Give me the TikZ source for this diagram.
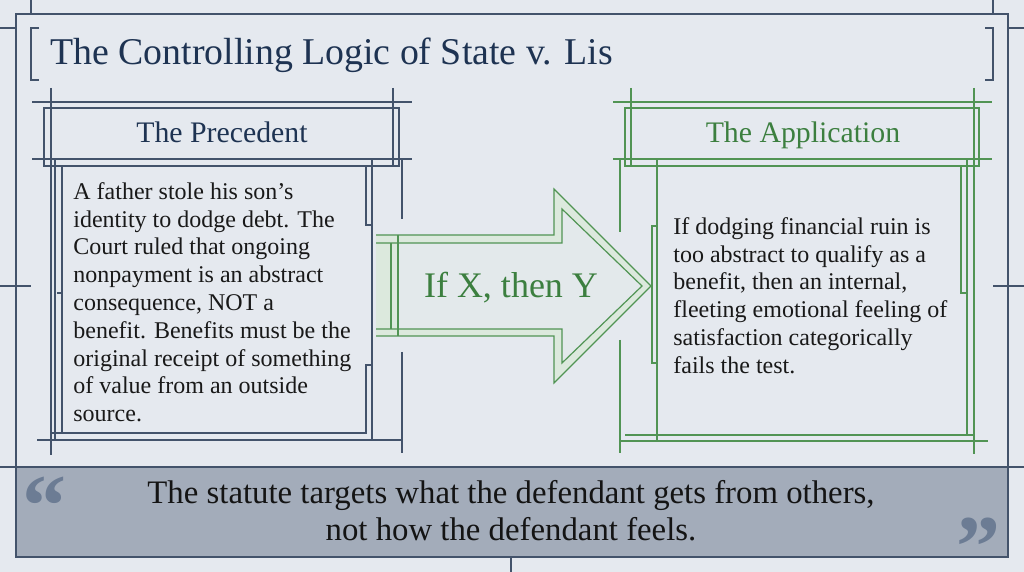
\documentclass[tikz,border=0pt]{standalone}
\usepackage{fontspec}
\setmainfont{Liberation Serif}
\usetikzlibrary{positioning}

\definecolor{paper}{HTML}{E5E9EF}
\definecolor{ink}{HTML}{43536B}
\definecolor{navy}{HTML}{1E3352}
\definecolor{leaf}{HTML}{3C7F3F}
\definecolor{leafline}{HTML}{519454}
\definecolor{mint}{HTML}{DCE9DD}
\definecolor{slate}{HTML}{A3ACBA}
\definecolor{quotemark}{HTML}{6C7C94}

\begin{document}
\begin{tikzpicture}[x=0.5pt, y=-0.5pt,
    frame/.style={draw=ink, line width=0.9pt},
    plan/.style={draw=ink, line width=0.6pt},
    greenplan/.style={draw=leafline, line width=0.6pt},
    heading/.style={inner sep=0pt, anchor=base, font=\fontsize{14.9}{17}\selectfont},
    bodytext/.style={inner sep=0pt, anchor=north west, align=left, text=black!90, font=\fontsize{12}{13.9}\selectfont},
    quotesign/.style={inner sep=0pt, text=quotemark, font=\bfseries\fontsize{44}{44}\selectfont}]
    \useasboundingbox[fill=paper] (0,0) rectangle (1024,572);

    % outer frame and ticks
    \draw[frame] (16,467) -- (16,14) -- (1008,14) -- (1008,467);
    \draw[frame] (31,0) -- (31,14) (993,0) -- (993,14);
    \draw[frame] (0,28) -- (16,28) (1008,28) -- (1024,28);
    \draw[frame] (0,286) -- (31,286) (993,286) -- (1024,286);
    \draw[frame] (0,467) -- (16,467) (1008,467) -- (1024,467);
    \draw[frame] (511,557) -- (511,572);

    % title
    \draw[frame] (39,28) -- (31,28) -- (31,80) -- (39,80);
    \draw[frame] (985,28) -- (993,28) -- (993,80) -- (985,80);
    \node[inner sep=0pt, anchor=base west, text=navy, font=\fontsize{18.9}{20}\selectfont] (title) at (50,65) {The Controlling Logic of State v. Lis};

    % the precedent (left panel)
    \draw[plan] (32,102) -- (412,102) (32,159) -- (412,159);
    \draw[plan] (44,108) rectangle (399,166);
    \draw[plan] (51,88) -- (51,455) (393,88) -- (393,166);
    \draw[plan] (402,159) -- (402,219) (402,352) -- (402,453);
    \draw[plan] (55,160) -- (55,440) (62,166) -- (62,433) (62,293) -- (57,293);
    \draw[plan] (366,166) -- (366,225) -- (372,225) (372,160) -- (372,440) (372,365) -- (366,365) -- (366,433);
    \draw[plan] (50,433) -- (367,433) (37,440) -- (402,440);
    \node[heading, text=navy] (precedent) at (222,143) {The Precedent};
    \node[bodytext] (facts) at (73,182) {A father stole his son’s\\identity to dodge debt. The\\Court ruled that ongoing\\nonpayment is an abstract\\consequence, NOT a\\benefit. Benefits must be the\\original receipt of something\\of value from an outside\\source.};

    % the application (right panel)
    \draw[greenplan] (613,102) -- (992,102) (613,159) -- (992,159);
    \draw[greenplan] (625,108) rectangle (979,166);
    \draw[greenplan] (631,88) -- (631,166) (974,88) -- (974,454);
    \draw[greenplan] (620,159) -- (620,232) (620,340) -- (620,453);
    \draw[greenplan] (657,160) -- (657,441) (657,226) -- (652,226) -- (652,363) -- (657,363);
    \draw[greenplan] (961,166) -- (961,293) -- (967,293) (967,160) -- (967,435);
    \draw[greenplan] (625,435) -- (973,435) (620,441) -- (988,441);
    \node[heading, text=leaf] (application) at (803,143) {The Application};
    \node[bodytext] (holding) at (673,217) {If dodging financial ruin is\\too abstract to qualify as a\\benefit, then an internal,\\fleeting emotional feeling of\\satisfaction categorically\\fails the test.};

    % arrow between the panels
    \fill[mint] (376,235) -- (554,235) -- (554,189) -- (651,286) -- (554,383) -- (554,336) -- (376,336) -- cycle;
    \fill[paper!75!mint] (398,243) -- (562,243) -- (562,209) -- (642,286) -- (562,363) -- (562,329) -- (398,329) -- cycle;
    \draw[greenplan] (376,235) -- (554,235) -- (554,189) -- (651,286) -- (554,383) -- (554,336) -- (376,336);
    \draw[greenplan] (376,243) -- (562,243) -- (562,209) -- (642,286) -- (562,363) -- (562,329) -- (376,329);
    \draw[greenplan] (391,243) -- (391,329) (398,235) -- (398,336);
    \node[inner sep=0pt, anchor=base, text=leaf, font=\fontsize{18}{20}\selectfont] (rule) at (511,298) {If X, then Y};

    % quote bar
    \draw[frame, fill=slate] (16,467) rectangle (1008,557);
    \node[quotesign, anchor=base west] (open) at (22,536) {“};
    \node[quotesign, anchor=south east] (close) at (1001,545) {\raisebox{-0.364em}[0.318em][0pt]{”}};
    \node[inner sep=0pt, align=center, text=black!92, font=\fontsize{16.4}{18.5}\selectfont] (quote) at (511,511) {The statute targets what the defendant gets from others,\\not how the defendant feels.};
\end{tikzpicture}
\end{document}
